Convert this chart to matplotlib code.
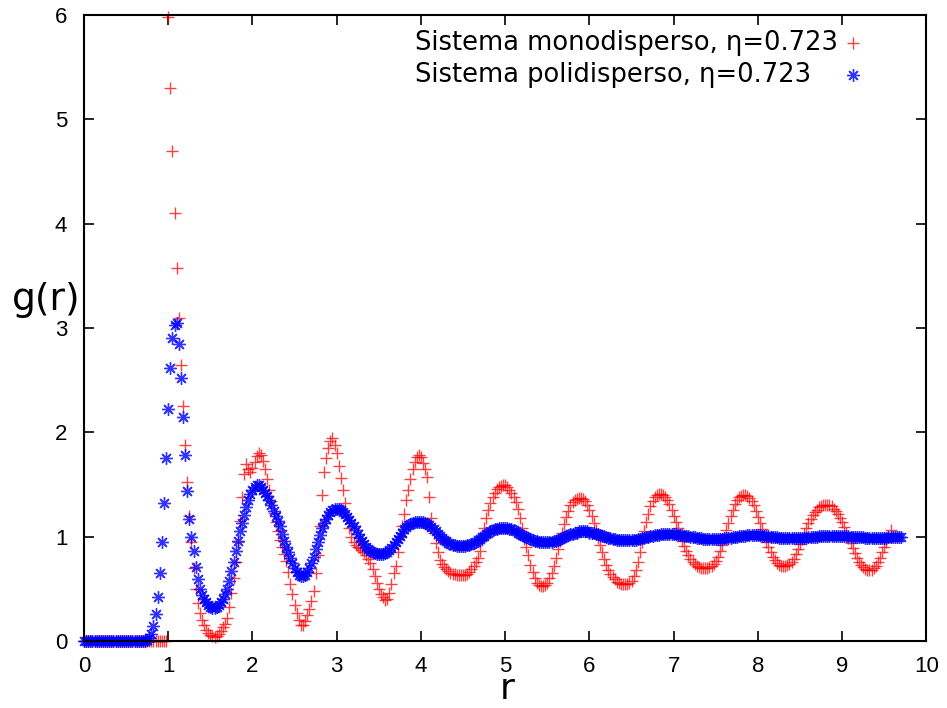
import numpy as np
import matplotlib
matplotlib.use("Agg")
import matplotlib.pyplot as plt

dr = 0.025

g_mono = [0.0] * 40 + [
    5.98, 5.3, 4.7, 4.1, 3.58, 3.1, 2.65, 2.25, 1.88, 1.52, 1.2, 0.95, 0.7, 0.5, 0.36, 0.27, 0.2, 0.15, 0.11, 0.08,
    0.06, 0.05, 0.04, 0.05, 0.07, 0.1, 0.13, 0.16, 0.22, 0.33, 0.46, 0.6, 0.76, 0.95, 1.15, 1.38, 1.6, 1.7, 1.65, 1.62,
    1.66, 1.72, 1.77, 1.8, 1.78, 1.73, 1.65, 1.55, 1.45, 1.34, 1.23, 1.14, 1.05, 0.97, 0.9, 0.83, 0.77, 0.66, 0.55, 0.45,
    0.35, 0.27, 0.2, 0.15, 0.15, 0.19, 0.25, 0.31, 0.38, 0.48, 0.65, 0.82, 1.1, 1.4, 1.62, 1.75, 1.85, 1.92, 1.95, 1.88,
    1.8, 1.68, 1.56, 1.45, 1.32, 1.2, 1.08, 1.0, 0.95, 0.92, 0.9, 0.89, 0.87, 0.85, 0.82, 0.79, 0.75, 0.69, 0.62, 0.56,
    0.5, 0.45, 0.42, 0.39, 0.4, 0.46, 0.55, 0.65, 0.72, 0.85, 1.0, 1.1, 1.22, 1.35, 1.45, 1.55, 1.65, 1.72, 1.76, 1.78,
    1.76, 1.71, 1.65, 1.57, 1.38, 1.18, 1.04, 0.94, 0.85, 0.78, 0.74, 0.71, 0.69, 0.67, 0.65, 0.64, 0.64, 0.63, 0.63, 0.63,
    0.63, 0.63, 0.64, 0.66, 0.69, 0.72, 0.76, 0.8, 0.86, 0.97, 1.08, 1.18, 1.26, 1.32, 1.38, 1.42, 1.46, 1.48, 1.49, 1.5,
    1.5, 1.48, 1.45, 1.42, 1.38, 1.33, 1.27, 1.18, 1.08, 0.98, 0.9, 0.82, 0.73, 0.66, 0.6, 0.56, 0.54, 0.53, 0.53, 0.54,
    0.56, 0.6, 0.65, 0.72, 0.8, 0.88, 0.96, 1.04, 1.12, 1.19, 1.25, 1.3, 1.33, 1.35, 1.36, 1.37, 1.37, 1.36, 1.34, 1.3,
    1.26, 1.2, 1.13, 1.06, 0.99, 0.92, 0.85, 0.79, 0.73, 0.68, 0.64, 0.61, 0.59, 0.57, 0.56, 0.55, 0.55, 0.55, 0.55, 0.56,
    0.58, 0.62, 0.68, 0.76, 0.85, 0.95, 1.05, 1.14, 1.22, 1.29, 1.34, 1.38, 1.4, 1.41, 1.41, 1.4, 1.38, 1.35, 1.31, 1.26,
    1.2, 1.14, 1.08, 1.02, 0.96, 0.91, 0.86, 0.82, 0.79, 0.76, 0.74, 0.72, 0.71, 0.7, 0.7, 0.7, 0.7, 0.71, 0.72, 0.74,
    0.77, 0.81, 0.86, 0.92, 0.99, 1.06, 1.13, 1.2, 1.26, 1.31, 1.35, 1.38, 1.39, 1.4, 1.4, 1.39, 1.37, 1.34, 1.3, 1.25,
    1.19, 1.13, 1.07, 1.01, 0.95, 0.9, 0.85, 0.81, 0.78, 0.75, 0.73, 0.72, 0.72, 0.72, 0.73, 0.74, 0.76, 0.79, 0.83, 0.88,
    0.93, 0.98, 1.03, 1.08, 1.13, 1.17, 1.21, 1.24, 1.26, 1.28, 1.29, 1.3, 1.3, 1.3, 1.3, 1.29, 1.27, 1.25, 1.22, 1.18,
    1.14, 1.09, 1.04, 0.99, 0.94, 0.89, 0.84, 0.8, 0.76, 0.73, 0.71, 0.69, 0.68, 0.68, 0.68, 0.7, 0.72, 0.76, 0.8, 0.85,
    0.9, 0.95, 1.0, 1.06,
]

g_poli = [0.0] * 30 + [
    0.01, 0.03, 0.07, 0.14, 0.26, 0.42, 0.65, 0.95, 1.32, 1.75,
    2.22, 2.62, 2.9, 3.03, 3.05, 2.85, 2.52, 2.15, 1.78, 1.44, 1.17, 1.0, 0.86, 0.71, 0.59, 0.5, 0.44, 0.4, 0.37, 0.35,
    0.33, 0.32, 0.32, 0.33, 0.35, 0.37, 0.4, 0.45, 0.5, 0.58, 0.67, 0.76, 0.86, 0.96, 1.05, 1.13, 1.21, 1.28, 1.35, 1.41,
    1.45, 1.48, 1.5, 1.5, 1.48, 1.45, 1.42, 1.39, 1.35, 1.3, 1.25, 1.2, 1.15, 1.1, 1.03, 0.96, 0.9, 0.85, 0.8, 0.75,
    0.7, 0.66, 0.63, 0.62, 0.62, 0.63, 0.66, 0.7, 0.75, 0.81, 0.88, 0.95, 1.02, 1.08, 1.13, 1.17, 1.21, 1.24, 1.26, 1.27,
    1.27, 1.27, 1.26, 1.24, 1.22, 1.19, 1.16, 1.13, 1.1, 1.06, 1.03, 0.99, 0.96, 0.93, 0.9, 0.88, 0.86, 0.85, 0.84, 0.83,
    0.83, 0.83, 0.83, 0.84, 0.85, 0.87, 0.89, 0.92, 0.95, 0.98, 1.01, 1.04, 1.07, 1.09, 1.11, 1.12, 1.13, 1.14, 1.14, 1.14,
    1.14, 1.14, 1.13, 1.12, 1.11, 1.09, 1.07, 1.05, 1.03, 1.01, 0.99, 0.97, 0.96, 0.94, 0.93, 0.92, 0.92, 0.91, 0.91, 0.91,
    0.91, 0.91, 0.92, 0.92, 0.93, 0.94, 0.95, 0.97, 0.98, 1.0, 1.01, 1.03, 1.04, 1.05, 1.06, 1.07, 1.07, 1.08, 1.08, 1.08,
    1.08, 1.08, 1.07, 1.07, 1.06, 1.05, 1.04, 1.03, 1.02, 1.01, 1.0, 0.99, 0.98, 0.97, 0.96, 0.96, 0.95, 0.95, 0.95, 0.95,
    0.95, 0.95, 0.95, 0.96, 0.96, 0.97, 0.98, 0.99, 1.0, 1.01, 1.02, 1.03, 1.03, 1.04, 1.04, 1.05, 1.05, 1.05, 1.05, 1.05,
    1.04, 1.04, 1.04, 1.03, 1.03, 1.02, 1.01, 1.01, 1.0, 0.99, 0.99, 0.98, 0.98, 0.97, 0.97, 0.97, 0.97, 0.97, 0.97, 0.97,
    0.97, 0.97, 0.97, 0.98, 0.98, 0.99, 0.99, 1.0, 1.0, 1.01, 1.01, 1.02, 1.02, 1.02, 1.03, 1.03, 1.03, 1.03, 1.03, 1.03,
    1.03, 1.03, 1.02, 1.02, 1.02, 1.01, 1.01, 1.01, 1.0, 1.0, 1.0, 0.99, 0.99, 0.99, 0.98, 0.98, 0.98, 0.98, 0.98, 0.98,
    0.98, 0.98, 0.98, 0.98, 0.99, 0.99, 0.99, 0.99, 1.0, 1.0, 1.0, 1.01, 1.01, 1.01, 1.01, 1.02, 1.02, 1.02, 1.02, 1.02,
    1.02, 1.02, 1.01, 1.01, 1.01, 1.01, 1.0, 1.0, 1.0, 1.0, 0.99, 0.99, 0.99, 0.99, 0.99, 0.99, 0.99, 0.99, 0.99, 0.99,
    0.99, 0.99, 0.99, 0.99, 1.0, 1.0, 1.0, 1.0, 1.0, 1.01, 1.01, 1.01, 1.01, 1.01, 1.01, 1.01, 1.01, 1.01, 1.01, 1.01,
    1.01, 1.01, 1.01, 1.01, 1.0, 1.0, 1.0, 1.0, 1.0, 1.0, 1.0, 0.99, 0.99, 0.99, 0.99, 0.99, 0.99, 0.99, 0.99, 0.99,
    0.99, 0.99, 1.0, 1.0, 1.0, 1.0, 1.0, 1.0, 1.0,
]

labels = ["Sistema monodisperso, \u03b7=0.723", "Sistema polidisperso, \u03b7=0.723"]
xticks = list(range(0, 11))
yticks = list(range(0, 7))

r_mono = np.arange(len(g_mono)) * dr
r_poli = np.arange(len(g_poli)) * dr

fig = plt.figure(figsize=(9.47, 7.08), dpi=100)
ax = fig.add_axes([0.0887, 0.0946, 0.8895, 0.8842])

red_style = dict(ls="none", marker="+", ms=9, mew=1.0, color="#ff0000", alpha=0.75, clip_on=False)
blue_style = dict(ls="none", marker=(8, 2, 0), ms=9, mew=1.0, color="#0000ff", alpha=0.8, clip_on=False)

ax.plot(r_mono, g_mono, **red_style)
ax.plot(r_poli, g_poli, **blue_style)

ax.set_xlim(0, 10)
ax.set_ylim(0, 6)
ax.set_xticks(xticks)
ax.set_yticks(yticks)
for s in ax.spines.values():
    s.set_linewidth(1.5)
ax.tick_params(direction="in", length=7, width=1.2, top=True, right=True,
               labelsize=16)
ax.tick_params(axis="x", pad=11)
ax.tick_params(axis="y", pad=12)
for t in ax.get_xticklabels() + ax.get_yticklabels():
    t.set_fontfamily("Liberation Sans")

# key, gnuplot style: text then sample on the right
leg_y = [0.955, 0.904]
for lab, yy, st in zip(labels, leg_y, [red_style, blue_style]):
    ax.text(0.393, yy, lab, transform=ax.transAxes, fontsize=18.5,
            family="DejaVu Sans", va="center", ha="left")
    ax.plot([0.913], [yy], transform=ax.transAxes, **st)

fig.text(46 / 947, 1 - 300 / 708, "g(r)", fontsize=27, family="DejaVu Sans",
         ha="center", va="center")
fig.text(507 / 947, 1 - 689 / 708, "r", fontsize=26, family="DejaVu Sans",
         ha="center", va="center")

fig.savefig("out.png", dpi=100)
